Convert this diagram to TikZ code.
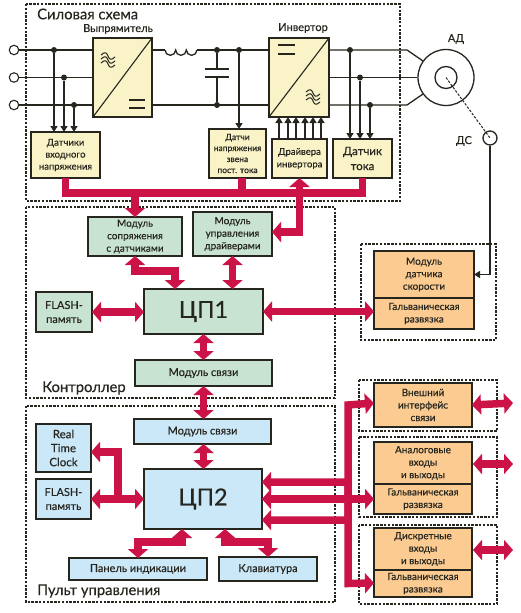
\documentclass[tikz,border=0pt]{standalone}
\usepackage{fontspec}
\setmainfont{Lato}[FakeBold=0.35]
\usetikzlibrary{arrows.meta,calc}
\definecolor{cyel}{HTML}{FAF3C8}
\definecolor{cgrn}{HTML}{C8E3D2}
\definecolor{cblu}{HTML}{CBE8F8}
\definecolor{corg}{HTML}{FBCB92}
\definecolor{cred}{HTML}{CB1348}
\definecolor{cink}{HTML}{26261F}
\tikzset{
  boxed/.style={draw=cink,line width=1.3pt,inner sep=0pt,outer sep=0pt,align=center,text=cink,font=\fontsize{10}{12.5}\selectfont},
  region/.style={draw=cink,line width=1.1pt,dash pattern=on 2.4pt off 1.4pt},
  title/.style={inner sep=0pt,text=cink,font=\fontsize{14.8}{17}\selectfont},
  lbl/.style={inner sep=0pt,text=cink,font=\fontsize{11}{12}\selectfont},
  wire/.style={draw=cink,line width=1.3pt},
  wirearrow/.style={wire,-{Triangle[length=6pt,width=7pt]}},
  dot/.style={circle,fill=cink,inner sep=0pt,minimum size=6pt},
  term/.style={circle,draw=cink,line width=1.1pt,fill=white,inner sep=0pt,minimum size=9.5pt},
  bus/.style={draw=cred,line width=7.5pt,line join=miter},
  bi/.style={bus,{Triangle[length=9pt,width=20pt]}-{Triangle[length=9pt,width=20pt]}},
  uni/.style={bus,-{Triangle[length=9pt,width=20pt]}},
}
\newcommand{\bx}[7][]{%
  \pgfmathsetmacro{\bw}{#5-#3}\pgfmathsetmacro{\bh}{#6-#4}%
  \pgfmathsetmacro{\bcx}{(#5+#3)/2}\pgfmathsetmacro{\bcy}{(#6+#4)/2}%
  \node[boxed,minimum width=\bw pt,minimum height=\bh pt,#1] (#2) at (\bcx,\bcy) {#7};}
\newcommand{\wavesign}[2]{%
  \foreach \d in {-4,0,4}{\draw[cink,line width=1pt] (#1-7,#2+\d-1) .. controls (#1-3,#2+\d-5) and (#1-1,#2+\d-3) .. (#1,#2+\d) .. controls (#1+1,#2+\d+3) and (#1+3,#2+\d+5) .. (#1+7,#2+\d+1);}}
\begin{document}
\begin{tikzpicture}[x=1pt,y=-1pt]
\useasboundingbox (0,0) rectangle (520,613);
% regions
\draw[region] (26,4) rectangle (400,201);
\draw[region] (26,207) rectangle (335,398);
\draw[region] (26,406) rectangle (335,602);
\draw[region] (361,244) rectangle (496,340);
\draw[region] (359,380) rectangle (497,431);
\draw[region] (359,437) rectangle (497,517);
\draw[region] (359,525) rectangle (497,604);
% titles
\node[title,anchor=west] (tp) at (37,14) {Силовая схема};
\node[title,anchor=west] (tc) at (42,388) {Контроллер};
\node[title,anchor=west] (tu) at (37,591) {Пульт управления};
\node[lbl] (tr) at (118,29) {Выпрямитель};
\node[lbl] (ti) at (303,28) {Инвертор};
\node[lbl] (tm) at (456,39) {АД};
\node[lbl] (ts) at (464,141) {ДС};
% power boxes
\bx[fill=cyel]{rec}{93}{38}{152}{117}{}
\bx[fill=cyel]{inv}{269}{38}{329}{117}{}
\bx[fill=cyel,font=\fontsize{9.5}{12}\selectfont]{sin}{31}{132}{100}{178}{Датчики\\входного\\напряжения}
\bx[fill=cyel,font=\fontsize{8.5}{11}\selectfont]{sdc}{209}{129}{266}{178}{Датчи\\напряжения\\звена\\пост. тока}
\bx[fill=cyel,font=\fontsize{9.5}{12.5}\selectfont]{drv}{272}{139}{327}{178}{Драйвера\\инвертора}
\bx[fill=cyel,font=\fontsize{11.5}{15}\selectfont]{cur}{333}{139}{392}{178}{Датчик\\тока}
% converter symbols
\draw[cink,line width=1.1pt] (rec.south west) -- (rec.north east);
\draw[cink,line width=1.1pt] (inv.south west) -- (inv.north east);
\wavesign{108}{60}
\wavesign{313}{97}
\draw[cink,line width=1.1pt] (129,100) -- (145,100) (129,108) -- (145,108);
\draw[cink,line width=1.1pt] (278,45) -- (295,45) (278,54) -- (295,54);
% terminals
\node[term] (t1) at (14,50) {};
\node[term] (t2) at (14,77.5) {};
\node[term] (t3) at (14,105) {};
% motor
\node[circle,draw=cink,line width=1.3pt,fill=white,minimum size=56pt,inner sep=0pt] (ad) at (446,77.5) {};
\node[circle,draw=cink,line width=1.3pt,minimum size=22pt,inner sep=0pt] (adi) at (446,77.5) {};
\node[circle,draw=cink,line width=1.3pt,minimum size=14pt,inner sep=0pt] (ds) at (490,138) {};
\draw[cink,line width=1pt,dash pattern=on 2.5pt off 1.5pt] (ad.center) -- (ds.center);
% input wires
\draw[wire] (t1) -- (rec.west |- t1);
\draw[wire] (t2) -- (rec.west |- t2);
\draw[wire] (t3) -- (rec.west |- t3);
\node[dot] (d1) at (54,50) {};
\node[dot] (d2) at (64,77.5) {};
\node[dot] (d3) at (74,105) {};
\draw[wirearrow] (d1) -- (d1 |- sin.north);
\draw[wirearrow] (d2) -- (d2 |- sin.north);
\draw[wirearrow] (d3) -- (d3 |- sin.north);
% dc link
\coordinate (la) at (165,50);
\coordinate (lb) at (197,50);
\draw[wire] (rec.east |- t1) -- (la);
\draw[wire] (la) arc[start angle=180,end angle=0,radius=5.33] arc[start angle=180,end angle=0,radius=5.33] arc[start angle=180,end angle=0,radius=5.33];
\draw[wire] (lb) -- (inv.west |- t1);
\draw[wire] (rec.east |- t3) -- (inv.west |- t3);
\node[dot] (c1) at (217,50) {};
\node[dot] (c2) at (217,105) {};
\node[dot] (s1) at (239,50) {};
\coordinate (p1) at (217,69);
\coordinate (p2) at (217,77);
\draw[wire] (c1) -- (p1) (p2) -- (c2);
\draw[cink,line width=1.1pt] ([xshift=-12pt]p1) -- ([xshift=12pt]p1);
\draw[cink,line width=1.1pt] ([xshift=-12pt]p2) -- ([xshift=12pt]p2);
\draw[wirearrow] (s1) -- (s1 |- sdc.north);
% output wires
\coordinate (m1) at (423,61);
\coordinate (m3) at (423,94);
\draw[wire] (inv.east |- t1) -- (407,50) -- (m1);
\draw[wire] (inv.east |- t2) -- (ad.west);
\draw[wire] (inv.east |- t3) -- (407,105) -- (m3);
\node[dot] (o1) at (350,50) {};
\node[dot] (o2) at (360,77.5) {};
\node[dot] (o3) at (370,105) {};
\draw[wirearrow] (o1) -- (o1 |- cur.north);
\draw[wirearrow] (o2) -- (o2 |- cur.north);
\draw[wirearrow] (o3) -- (o3 |- cur.north);
% driver gate arrows
\foreach \dx in {-20.5,-11.5,-3.5,5.5,13.5,21.5}{
  \draw[wirearrow] ([xshift=\dx pt]drv.north) -- ([xshift=\dx pt]drv.north |- inv.south);}
% controller
\bx[fill=cgrn]{mod}{88}{217}{182}{256}{Модуль\\сопряжения\\с датчиками}
\bx[fill=cgrn]{mdr}{193}{212}{272}{256}{Модуль\\управления\\драйверами}
\bx[fill=cgrn,font=\fontsize{23.5}{26}\selectfont]{cp1}{144}{289}{263}{334}{ЦП1}
\bx[fill=cgrn,font=\fontsize{11}{14}\selectfont]{fl1}{36}{292}{92}{332}{FLASH-\\память}
\bx[fill=cgrn,font=\fontsize{11}{13}\selectfont]{sv1}{135}{360}{272}{386}{Модуль связи}
% panel
\bx[fill=cblu,font=\fontsize{11}{13}\selectfont]{sv2}{134}{419}{271}{444}{Модуль связи}
\bx[fill=cblu,font=\fontsize{23.5}{26}\selectfont]{cp2}{144}{469}{262}{529}{ЦП2}
\bx[fill=cblu,font=\fontsize{11.5}{14}\selectfont]{rtc}{36}{424}{91}{472}{Real\\Time\\Clock}
\bx[fill=cblu,font=\fontsize{11}{14}\selectfont]{fl2}{36}{479}{91}{519}{FLASH-\\память}
\bx[fill=cblu,font=\fontsize{11}{13}\selectfont]{pan}{69}{558}{207}{580}{Панель индикации}
\bx[fill=cblu,font=\fontsize{11}{13}\selectfont]{kbd}{219}{557}{317}{581}{Клавиатура}
% right modules
\bx[fill=corg]{spd}{374}{251}{474}{298}{Модуль\\датчика\\скорости}
\bx[fill=corg]{gs}{374}{298}{474}{329}{Гальваническая\\развязка}
\bx[fill=corg]{ext}{374}{383}{472}{427}{Внешний\\интерфейс\\связи}
\bx[fill=corg]{ana}{374}{442}{472}{484}{Аналоговые\\входы\\и выходы}
\bx[fill=corg]{ga}{374}{484}{472}{514}{Гальваническая\\развязка}
\bx[fill=corg]{dis}{374}{528}{472}{570}{Дискретные\\входы\\и выходы}
\bx[fill=corg]{gd}{374}{570}{472}{597}{Гальваническая\\развязка}
% speed sensor line
\draw[wire,-{Triangle[length=6pt,width=7pt]}] (ds.south) |- (spd.east);
% red buses
\coordinate (bmid) at (135,193);
\draw[bus] (sin.south) |- (bmid) -| (cur.south);
\draw[bus] ([xshift=4.5pt]sdc.south) -- ([xshift=4.5pt]sdc.south |- bmid);
\draw[uni] (bmid) -- (mod.north);
\draw[bi] (drv.south) |- ([yshift=2pt]mdr.east);
\coordinate (k1) at ($(cp1.north)+(-28.5,-18)$);
\draw[bi] (mod.south) |- (k1) -- ([xshift=-28.5pt]cp1.north);
\draw[bi] (mdr.south) -- (mdr.south |- cp1.north);
\draw[bi] (fl1.east) -- (fl1.east -| cp1.west);
\draw[bi] (cp1.east) -- (cp1.east -| gs.west);
\draw[bi] (cp1.south) -- (cp1.south |- sv1.north);
\draw[bi] (cp1.south |- sv1.south) -- (cp1.south |- sv2.north);
\draw[bi] (cp1.south |- sv2.south) -- (cp1.south |- cp2.north);
% CP2 links
\draw[bi] (fl2.east) -- (fl2.east -| cp2.west);
\coordinate (j1) at (118,499);
\draw[uni] (j1) |- (rtc.east |- 0,452);
\coordinate (k2) at (182,542);
\coordinate (k3) at (225,542);
\draw[bi] (k2 |- cp2.south) -- (k2) -| (138,558);
\draw[bi] (k3 |- cp2.south) -- (k3) -| (268,557);
\coordinate (rx) at (348,490);
\draw[bi] ([yshift=-21pt]cp2.east) -| (rx |- ext.east) -- (ext.west |- 0,403);
\draw[bi] (cp2.east |- ga.west) -- (ga.west);
\draw[bi] ([yshift=17pt]cp2.east) -| (rx |- gd.west) -- (gd.west |- 0,583);
% outside arrows
\draw[bi] (ext.east) -- (513,403);
\draw[bi] (473,464) -- (513,464);
\draw[bi] (473,550) -- (513,550);
\end{tikzpicture}
\end{document}
